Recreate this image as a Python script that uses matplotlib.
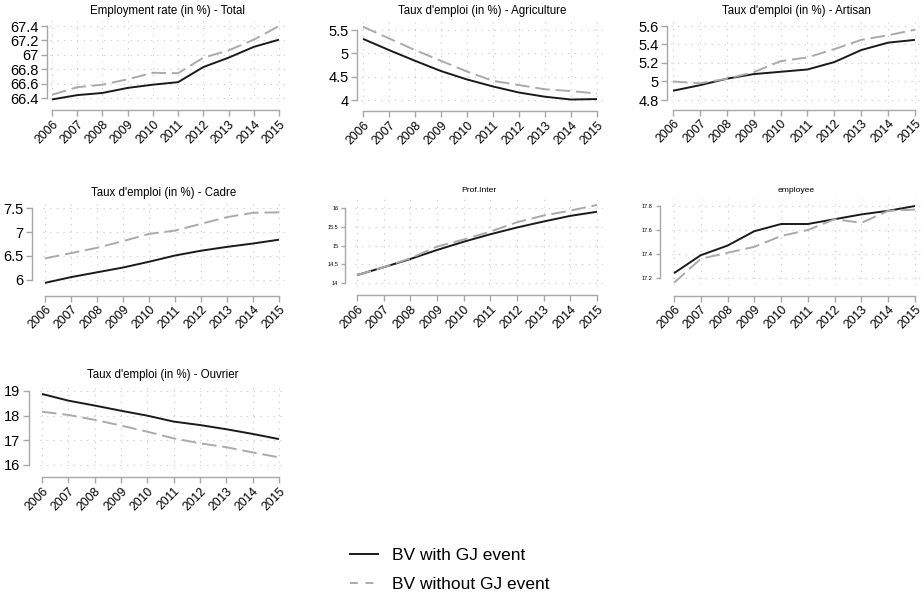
import matplotlib
matplotlib.use("Agg")
import matplotlib.pyplot as plt
from matplotlib.lines import Line2D
from matplotlib.ticker import FuncFormatter

plt.rcParams['font.family'] = ['Liberation Sans', 'DejaVu Sans']

# ----------------------------
# DATA
# ----------------------------
years = [2006, 2007, 2008, 2009, 2010, 2011, 2012, 2013, 2014, 2015]

titles = ["Employment rate (in %) - Total",
          "Taux d'emploi (in %) - Agriculture",
          "Taux d'emploi (in %) - Artisan",
          "Taux d'emploi (in %) - Cadre",
          "Prof.Inter",
          "employee",
          "Taux d'emploi (in %) - Ouvrier"]

total_gj = [66.38, 66.44, 66.47, 66.54, 66.585, 66.62, 66.83, 66.96, 67.11, 67.21]
total_nogj = [66.445, 66.55, 66.585, 66.66, 66.75, 66.745, 66.96, 67.06, 67.21, 67.40]

agri_gj = [5.31, 5.07, 4.84, 4.62, 4.44, 4.29, 4.16, 4.07, 4.01, 4.02]
agri_nogj = [5.57, 5.32, 5.07, 4.84, 4.61, 4.41, 4.32, 4.23, 4.19, 4.14]

artisan_gj = [4.90, 4.96, 5.03, 5.08, 5.105, 5.13, 5.21, 5.34, 5.42, 5.45]
artisan_nogj = [5.00, 4.98, 5.03, 5.10, 5.22, 5.26, 5.35, 5.45, 5.50, 5.56]

cadre_gj = [5.94, 6.06, 6.16, 6.26, 6.38, 6.51, 6.61, 6.69, 6.76, 6.84]
cadre_nogj = [6.45, 6.56, 6.67, 6.81, 6.96, 7.03, 7.17, 7.31, 7.40, 7.41]

prof_gj = [14.21, 14.42, 14.64, 14.88, 15.10, 15.30, 15.48, 15.64, 15.79, 15.90]
prof_nogj = [14.21, 14.42, 14.66, 14.97, 15.16, 15.37, 15.62, 15.80, 15.93, 16.08]

empl_gj = [17.24, 17.39, 17.47, 17.59, 17.65, 17.65, 17.69, 17.73, 17.76, 17.80]
empl_nogj = [17.16, 17.36, 17.41, 17.46, 17.55, 17.60, 17.69, 17.66, 17.76, 17.77]

ouvrier_gj = [18.88, 18.61, 18.41, 18.20, 18.00, 17.76, 17.62, 17.45, 17.26, 17.05]
ouvrier_nogj = [18.16, 18.03, 17.83, 17.60, 17.35, 17.08, 16.88, 16.72, 16.51, 16.31]

yticks = [[66.4, 66.6, 66.8, 67.0, 67.2, 67.4],
          [4.0, 4.5, 5.0, 5.5],
          [4.8, 5.0, 5.2, 5.4, 5.6],
          [6.0, 6.5, 7.0, 7.5],
          [14.0, 14.5, 15.0, 15.5, 16.0],
          [17.2, 17.4, 17.6, 17.8],
          [16, 17, 18, 19]]

series_gj = [total_gj, agri_gj, artisan_gj, cadre_gj, prof_gj, empl_gj, ouvrier_gj]
series_nogj = [total_nogj, agri_nogj, artisan_nogj, cadre_nogj, prof_nogj, empl_nogj, ouvrier_nogj]

legend_labels = ["BV with GJ event", "BV without GJ event"]

# ----------------------------
# LAYOUT (pixels)
# x0/x1: pixel of first/last year, ytop/ybot: pixel of first/last tick,
# top/bot: plot box, spx: y axis line x, xax: x axis line y
# ----------------------------
W, H = 922, 601
layout = [
    dict(x0=52, x1=279, ytop=26, ybot=98, top=21, bot=102, spx=48, xax=108, small=False),
    dict(x0=363, x1=597, ytop=30, ybot=100, top=21, bot=103, spx=358, xax=109, small=False),
    dict(x0=673, x1=915, ytop=26, ybot=100, top=21, bot=103, spx=668, xax=108, small=False),
    dict(x0=45, x1=279, ytop=208, ybot=280, top=203, bot=285, spx=35, xax=293, small=False),
    dict(x0=357, x1=597, ytop=208, ybot=283, top=198, bot=287, spx=348, xax=293, small=True),
    dict(x0=674, x1=915, ytop=206, ybot=278, top=198, bot=285, spx=663, xax=293, small=True),
    dict(x0=42, x1=279, ytop=391, ybot=465, top=385, bot=469, spx=32, xax=475, small=False),
]

axis_col = '#a8a8a8'
grid_col = '#c8c8c8'
dash = (7.5, 3.0)

fig = plt.figure(figsize=(W / 100, H / 100), dpi=100)

for i, L in enumerate(layout):
    left = L['x0'] - 2
    right = L['x1'] + 6
    ax = fig.add_axes([left / W, 1 - L['bot'] / H, (right - left) / W, (L['bot'] - L['top']) / H])

    ux = (L['x1'] - L['x0']) / (years[-1] - years[0])
    ax.set_xlim(years[0] - 2 / ux, years[-1] + 6 / ux)

    tmin, tmax = yticks[i][0], yticks[i][-1]
    uy = (L['ybot'] - L['ytop']) / (tmax - tmin)
    ax.set_ylim(tmin - (L['bot'] - L['ybot']) / uy, tmax + (L['ytop'] - L['top']) / uy)

    ax.plot(years, series_gj[i], color='#1a1a1a', lw=1.4, solid_capstyle='butt')
    ax.plot(years, series_nogj[i], color='#aaaaaa', lw=1.4, dashes=dash)

    ax.set_xticks(years)
    ax.set_yticks(yticks[i])
    ax.yaxis.set_major_formatter(FuncFormatter(lambda v, p: ('%g' % round(v, 2))))
    ax.grid(True, color=grid_col, linestyle=(0, (1, 5)), lw=0.8)

    for s in ['top', 'right']:
        ax.spines[s].set_visible(False)
    ax.spines['left'].set_bounds(tmin, tmax)
    ax.spines['left'].set_position(('outward', left - L['spx']))
    ax.spines['bottom'].set_bounds(years[0], years[-1])
    ax.spines['bottom'].set_position(('outward', L['xax'] - L['bot']))
    for s in ['left', 'bottom']:
        ax.spines[s].set_color(axis_col)
        ax.spines[s].set_linewidth(1.0)

    ysize = 4.0 if L['small'] else 10.5
    tsize = 6.1 if L['small'] else 8.3
    ax.tick_params(axis='x', direction='out', length=4, width=1.0, color=axis_col,
                   labelsize=8.8, pad=1.5)
    ax.tick_params(axis='y', direction='out', length=4 if not L['small'] else 3, width=1.0,
                   color=axis_col, labelsize=ysize, pad=2)
    for lab in ax.get_xticklabels():
        lab.set_rotation(45)
        lab.set_ha('right')
        lab.set_va('top')
        lab.set_rotation_mode('anchor')
    ax.set_title(titles[i], fontsize=tsize, pad=5 if not L['small'] else 4)

handles = [Line2D([], [], color='#1a1a1a', lw=1.4),
           Line2D([], [], color='#aaaaaa', lw=1.4, dashes=(4, 4))]
fig.legend(handles, legend_labels, loc='center', bbox_to_anchor=(450 / W, 1 - 570 / H),
           frameon=False, fontsize=12.5, handlelength=1.6, labelspacing=0.75,
           handletextpad=0.8)

fig.savefig("out.png", dpi=100)
